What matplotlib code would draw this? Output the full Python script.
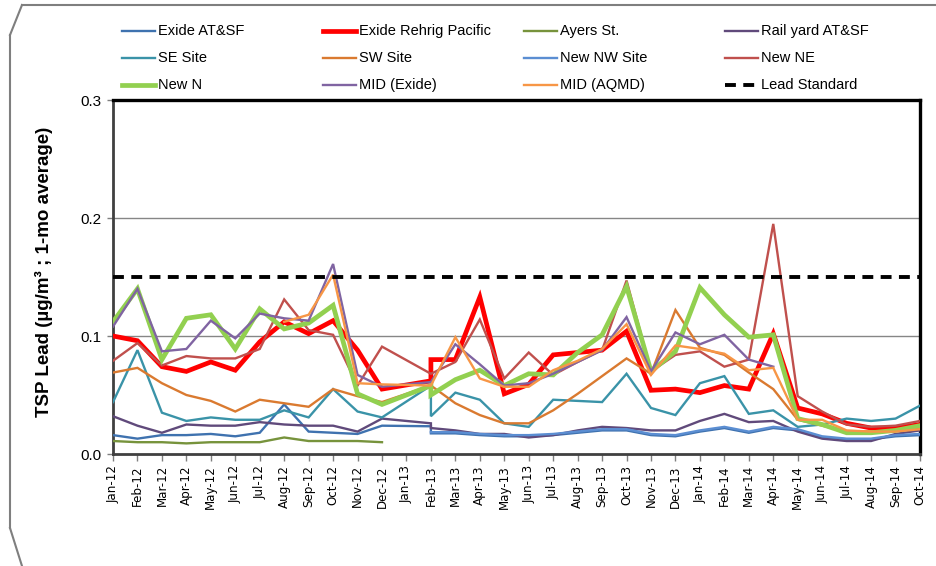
import numpy as np
import matplotlib as mpl
mpl.use('Agg')
import matplotlib.pyplot as plt
from matplotlib.lines import Line2D

W, H = 936, 566
FigSize = (W / 100, H / 100)
TickFont = 'Liberation Sans'
nan = np.nan

months = ['Jan-12', 'Feb-12', 'Mar-12', 'Apr-12', 'May-12', 'Jun-12', 'Jul-12',
          'Aug-12', 'Sep-12', 'Oct-12', 'Nov-12', 'Dec-12', 'Jan-13', 'Feb-13',
          'Mar-13', 'Apr-13', 'May-13', 'Jun-13', 'Jul-13', 'Aug-13', 'Sep-13',
          'Oct-13', 'Nov-13', 'Dec-13', 'Jan-14', 'Feb-14', 'Mar-14', 'Apr-14',
          'May-14', 'Jun-14', 'Jul-14', 'Aug-14', 'Sep-14', 'Oct-14']
# Feb-13 has two readings in the sheet (old and new sampling)
xpos = list(range(14)) + [13] + list(range(14, 34))

exide_atsf = [.016, .013, .016, .016, .017, .015, .018, .042, .019, .018, .017, .024,
              nan, .0235, .0175, .0175, .016, .015, .015, .016, .018, .020, .020, .016, .015,
              .019, .022, .018, .022, .020, .014, .0125, .0125, .015, .016]
rehrig = [.100, .096, .074, .070, .078, .071, .095, .112, .102, .113, .088, .055,
          nan, .062, .080, .080, .133, .051, .059, .084, .086, .088, .104, .054, .055,
          .052, .058, .055, .102, .039, .034, .026, .022, .022, .025]
ayers = [.011, .010, .010, .009, .010, .010, .010, .014, .011, .011, .011, .010] + [nan] * 23
railyard = [.032, .024, .018, .025, .024, .024, .027, .025, .024, .024, .019, .030,
            nan, .026, .022, .020, .017, .017, .014, .016, .020, .023, .022, .020, .020,
            .028, .034, .027, .028, .019, .013, .011, .011, .017, .020]
se_site = [.044, .088, .035, .028, .031, .029, .029, .037, .031, .055, .036, .031,
           nan, .058, .032, .052, .046, .026, .023, .046, .045, .044, .068, .039, .033,
           .060, .066, .034, .037, .023, .025, .030, .028, .030, .041]
sw_site = [.069, .073, .060, .050, .045, .036, .046, .043, .040, .055, .049, .044,
           nan, .058, .058, .043, .033, .026, .026, .037, .051, .066, .081, .068, .122,
           .090, .084, .069, .055, .029, .024, .019, .019, .020, .022]
new_nw = [nan] * 14 + [.0185, .0185, .017, .016, .016, .017, .019, .021, .021, .017, .016,
                       .020, .023, .019, .023, .021, .015, .013, .013, .016, .017]
new_ne = [.079, .094, .075, .083, .081, .081, .089, .131, .105, .101, .058, .091,
          nan, .068, .068, .078, .114, .064, .086, .067, .078, .088, .147, .070, .084,
          .087, .074, .080, .195, .049, .036, .025, .023, .024, .028]
new_n = [.112, .140, .080, .115, .118, .089, .123, .106, .111, .126, .051, .042,
         nan, .058, .050, .063, .071, .058, .068, .067, .086, .101, .142, .070, .087,
         .141, .118, .099, .101, .030, .025, .018, .018, .020, .024]
mid_exide = [.108, .140, .087, .089, .113, .098, .119, .115, .113, .161, .067, .057,
             nan, .061, .061, .093, .076, .058, .060, .068, .078, .088, .116, .070, .103,
             .093, .101, .080, .074, nan, nan, nan, nan, nan, nan]
mid_aqmd = [nan, nan, nan, nan, nan, nan, nan, .112, .118, .152, .060, .059,
            nan, .058, .058, .099, .064, .057, .057, .071, .079, .089, .110, .067, .092,
            .089, .085, .071, .073, .029, .029, .020, .019, .019, .021]
lead_std = 0.15

# name, values, colour, width  (legend order, row by row)
series = [
    ('Exide AT&SF', exide_atsf, '#3F72AF', 1.7),
    ('Exide Rehrig Pacific', rehrig, '#FF0000', 3.4),
    ('Ayers St.', ayers, '#77933C', 1.7),
    ('Rail yard AT&SF', railyard, '#604A7B', 1.7),
    ('SE Site', se_site, '#3A93A8', 1.7),
    ('SW Site', sw_site, '#DA7A30', 1.7),
    ('New NW Site', new_nw, '#5B8ED2', 1.7),
    ('New NE', new_ne, '#C0504D', 1.7),
    ('New N', new_n, '#92D050', 3.4),
    ('MID (Exide)', mid_exide, '#8064A2', 1.7),
    ('MID (AQMD)', mid_aqmd, '#F79646', 1.7),
]


def px(x, y):
    return x / W, 1 - y / H


fig = plt.figure(figsize=FigSize, dpi=100)
ax = fig.add_axes([113 / W, 1 - 454 / H, (920 - 113) / W, (454 - 100) / H])

x = np.array(xpos, float)
for name, vals, col, lw in series:
    v = np.array(vals, float)
    m = ~np.isnan(v)
    ax.plot(x[m], v[m], color=col, lw=lw, solid_joinstyle='miter', zorder=3)
ax.axhline(lead_std, color='black', lw=2.8, dashes=(2.8, 1.9), zorder=4)

ax.set_xlim(0, 33)
ax.set_ylim(0, 0.3)
ax.set_yticks([0, 0.1, 0.2, 0.3])
ax.set_yticklabels(['%.1f' % t for t in [0, 0.1, 0.2, 0.3]], fontsize=11, family=TickFont)
ax.set_xticks(range(len(months)))
ax.set_xticklabels(months, rotation=90, fontsize=8.6, family='DejaVu Sans')
ax.tick_params(axis='x', direction='out', length=5, width=1, color='#7F7F7F', pad=3)
ax.tick_params(axis='y', direction='out', length=4, width=1, color='#7F7F7F', pad=4)
for g in [0.1, 0.2]:
    ax.axhline(g, color='#868686', lw=1.0, zorder=1)
for s in ['top', 'right']:
    ax.spines[s].set_linewidth(2.4)
    ax.spines[s].set_color('black')
for s in ['left', 'bottom']:
    ax.spines[s].set_linewidth(2.0)
    ax.spines[s].set_color('#404040')

ax.set_ylabel('TSP Lead (µg/m³ ; 1-mo average)', fontsize=13.5, fontweight='bold',
              family=TickFont)
ax.yaxis.set_label_coords(-0.074, 0.515)

# legend, 4 evenly spaced columns above the plot
col_x = [158, 359, 560, 761]
row_y = [31, 58, 85]
entries = [(n, c, lw, '-') for n, _, c, lw in series] + [('Lead Standard', 'black', 2.8, '--')]
for i, (name, col, lw, ls) in enumerate(entries):
    tx, ty = col_x[i % 4], row_y[i // 4]
    x0, y0 = px(tx - 36, ty)
    x1, _ = px(tx - 3, ty)
    if ls == '--':
        ln = Line2D([x0, x1], [y0, y0], color=col, lw=lw, dashes=(2.8, 1.9),
                    transform=fig.transFigure)
    else:
        ln = Line2D([x0, x1], [y0, y0], color=col, lw=lw, transform=fig.transFigure)
    fig.add_artist(ln)
    fig.text(*px(tx, ty), name, fontsize=10.5, family=TickFont, va='center', ha='left')

# outer chart border (cropped screenshot frame)
frame = [((22, 5), (936, 5)), ((22, 5), (10, 35)), ((10, 35), (10, 528)), ((10, 528), (22, 566))]
for a, b in frame:
    xa, ya = px(*a)
    xb, yb = px(*b)
    fig.add_artist(Line2D([xa, xb], [ya, yb], color='#7F7F7F', lw=1.5,
                          transform=fig.transFigure))

fig.savefig('out.png', dpi=100)
